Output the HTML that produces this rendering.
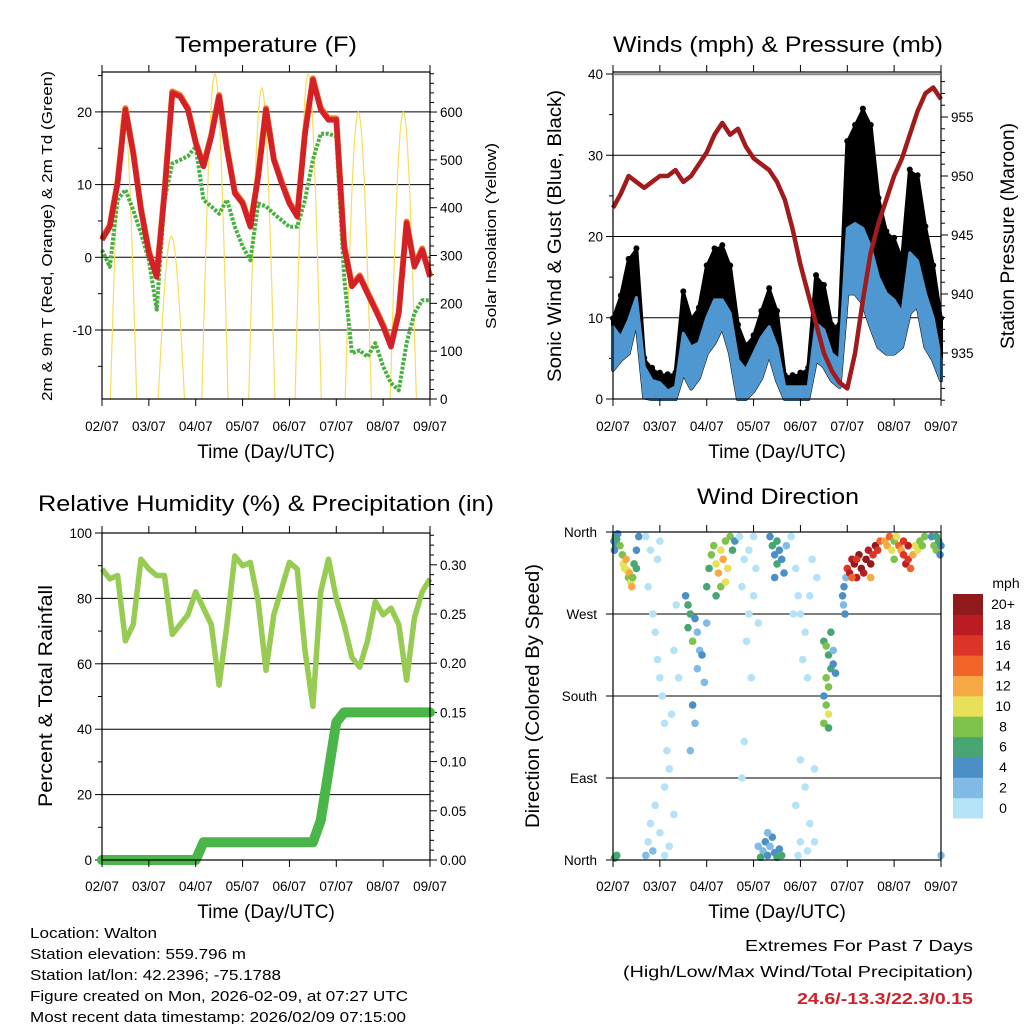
<!DOCTYPE html>
<html><head><meta charset="utf-8">
<style>
html,body{margin:0;padding:0;background:#fff;}
svg{display:block;font-family:"Liberation Sans",Arial,sans-serif;}
</style></head>
<body>
<svg id="chart" width="1024" height="1024" viewBox="0 0 1024 1024" xmlns="http://www.w3.org/2000/svg">
<rect x="0" y="0" width="1024" height="1024" fill="#fff"/>
</svg>
<script>
// ---------- DATA (4-hourly samples, day 0 = 02/07) ----------
const dayLabels = ["02/07","03/07","04/07","05/07","06/07","07/07","08/07","09/07"];
const tempTicks = [-10,0,10,20];
const solarTicks = [0,100,200,300,400,500,600];
const windTicks = [0,10,20,30,40];
const presTicks = [935,940,945,950,955];
const rhTicks = [0,20,40,60,80,100];
const precipTicks = ["0.00","0.05","0.10","0.15","0.20","0.25","0.30"];
const dirNames = ["North","East","South","West","North"];
const dirTickDeg = [0,90,180,270,360];
const speedLabels = ["0","2","4","6","8","10","12","14","16","18","20+"];
const speedColors = ["#b4e2f7","#7fbbe4","#4a8fc6","#48a672","#7cc24b","#e7e058","#f6a845","#f0642a","#dd3428","#bb1c24","#911a1c"];

const tempRed = [2.4,4.2,10.2,20.3,14.3,6.5,0.6,-2.7,8.8,22.6,22.1,20.3,15.7,12.5,16.6,22.1,14.8,8.8,7.4,4.2,11.1,20.3,13.4,10.2,7.4,5.6,17,24.4,20.3,18.9,18.9,1.5,-4,-2.7,-5,-7.2,-9.5,-12.3,-7.7,4.7,-1.3,1,-2.7];
const dewGreen = [1,-1.3,7.9,9.3,6.5,3.3,-0.4,-7.2,7.9,12.9,13.4,13.9,15.2,7.9,7,6,7.9,4.2,1.5,-0.4,7.4,7,6,5.1,4.2,4.2,7.9,13.4,17,17,16.6,-2.7,-13.2,-12.8,-13.7,-11.8,-15,-17.3,-18.3,-11.8,-7.7,-5.9,-5.9];
const solarPeakDay = [0.46,1.48,2.41,3.41,4.4,5.47,6.43];
const solarPeakVal = [610,340,680,650,680,600,600];

const windLo = [3.6,4.8,5.6,9.7,0.2,0,0,0,0,3.2,1.3,2.6,5.6,6.9,8.9,5.6,0,0,1,2.6,5.6,2.3,0,0,0,0,4.8,4,2.3,1.5,13,13,11.8,8.9,6.4,5.6,5.6,6.4,10.6,11.5,6.4,4.8,2.3];
const windHi = [8.9,7.6,9.7,12.5,4,2.3,2,1,1.5,8.1,6.4,6.9,10,12.2,12.2,10.6,4.8,3.6,5.6,7.6,8.9,6.4,1.5,1.5,1.5,1.5,9.3,8.5,5.6,4.8,21,21.6,21,18.7,15,13,12.2,10.6,18,17,13,10,4.8];
const gust = [9.7,12.5,17,18.3,4.8,3.6,3,2.8,3,13,9.7,11,16.2,18.3,18.7,16.2,8.9,6.4,7.6,10.6,13.4,10.6,2.7,2.7,3,3.6,15,13.8,8.9,8.9,31.5,33.5,35.5,33.5,24.5,20.4,19.6,17,28,27.3,21,16.2,9.7];
const pressure = [947.3,948.5,950,949.5,949,949.5,950,950,950.5,949.5,950,951,952,953.5,954.5,953.5,954,952.5,951.5,951,950.5,949.5,948,945.5,942.5,940,937.5,935,933.5,932.5,932,935,939.5,943.5,946,948,950,951.5,953.5,955.5,957,957.5,956.5];

const rh = [89,86,87,67,72,92,89,87,87,69,72,75,82,77,72,53.5,72,93,90,91,79,58,75,83,91,89,64,47,82,92,80,72,62,59,67,79,75,77,72,55,74,82,86];
const precip = [0,0,0,0,0,0,0,0,0,0,0,0,0,0.018,0.018,0.018,0.018,0.018,0.018,0.018,0.018,0.018,0.018,0.018,0.018,0.018,0.018,0.018,0.04,0.09,0.14,0.15,0.15,0.15,0.15,0.15,0.15,0.15,0.15,0.15,0.15,0.15,0.15];

const dirDay = [0.02,0.05,0.08,0.1,0.03,0.06,0.05,0.08,0.03,
0.15,0.2,0.22,0.25,0.28,0.3,0.33,0.35,0.38,0.4,0.42,0.45,0.5,0.55,0.5,
0.7,0.8,0.75,0.85,0.9,0.95,1.0,1.05,1.1,1.15,1.2,1.1,0.9,0.8,0.75,0.85,1.0,1.2,1.3,1.25,1.3,1.35,0.95,1.0,1.4,0.7,1.1,
1.55,1.6,1.65,1.6,1.7,1.75,1.8,1.85,1.9,1.8,1.95,1.7,1.75,1.65,2.0,
2.0,2.05,2.1,2.15,2.2,2.25,2.3,2.35,2.4,2.45,2.5,2.55,2.3,2.2,2.4,2.6,
2.7,2.8,2.75,2.9,2.85,2.95,2.8,2.75,2.9,3.0,3.05,3.1,3.0,
3.2,3.25,3.3,3.35,3.4,3.3,3.45,3.5,3.55,3.15,3.6,3.1,
3.35,3.4,3.45,3.5,3.55,3.6,3.65,3.5,3.7,3.45,
3.8,3.9,3.95,4.0,4.1,4.05,4.15,4.2,3.85,4.25,4.0,4.1,3.9,4.2,4.3,4.0,4.15,4.3,3.95,4.35,
4.5,4.55,4.6,4.65,4.55,4.6,4.5,4.55,4.6,4.5,4.6,4.65,4.7,4.75,4.7,
4.9,4.92,4.95,4.93,4.97,
5.0,5.05,5.1,5.15,5.2,5.25,5.3,5.35,5.4,5.45,5.5,5.55,5.6,5.65,5.7,5.2,5.1,5.5,
5.8,5.85,5.9,5.95,6.0,6.05,6.1,6.15,6.2,6.25,6.3,6.35,6.4,6.45,6.5,6.55,6.6,6.3,6.2,6.65,6.0,
6.8,6.85,6.9,6.95,7.0,6.98,6.9,7.0];
const dirDeg = [350,355,352,358,340,345,3,5,2,
345,335,325,320,330,318,310,315,305,300,310,325,340,355,320,
355,340,300,270,250,220,200,180,150,120,100,80,60,40,20,10,30,15,50,160,230,280,330,350,200,5,5,
290,280,270,255,240,265,250,230,225,210,195,170,150,120,260,
300,320,335,345,325,315,340,330,350,320,355,340,300,290,305,350,
355,330,300,270,240,200,130,90,340,290,320,260,355,
10,20,5,15,25,30,8,3,12,3,5,15,
355,345,335,325,340,330,315,350,345,310,
355,320,290,270,250,220,200,290,270,330,110,80,60,40,20,20,10,100,5,310,
240,235,225,210,200,190,180,170,160,150,145,250,215,205,230,
290,280,270,300,310,
320,315,330,325,310,335,320,315,330,340,325,335,345,340,350,330,310,310,
350,345,355,340,350,355,345,340,335,325,330,320,335,345,340,350,345,345,350,355,330,
355,345,340,350,345,335,355,5];
const dirSpeed = [4,6,6,5,4,5,7,6,6,
8,9,10,11,12,10,9,12,10,13,8,7,4,5,6,
0,1,0,0,1,0,0,1,0,0,1,0,0,1,0,2,0,1,0,0,1,0,1,0,0,2,0,
5,6,7,6,8,4,3,3,4,3,2,4,3,3,3,
6,7,9,8,10,12,11,13,9,10,8,7,8,6,10,5,
0,1,0,1,0,0,1,0,0,1,0,0,1,
3,4,4,3,5,3,4,6,5,7,6,2,
5,6,5,6,4,4,4,6,2,4,
1,0,0,1,0,0,0,0,1,0,0,1,0,1,0,0,1,0,0,1,
7,8,6,7,9,8,4,9,10,8,7,6,4,4,3,
4,3,4,4,3,
17,18,19,20,18,21,22,19,20,18,21,17,22,16,14,16,15,13,
13,12,14,10,9,11,14,13,16,18,17,14,12,10,11,9,8,18,16,9,8,
5,8,9,7,4,4,7,3];

// ---------- HELPERS ----------
const NS = "http://www.w3.org/2000/svg";
const svg = document.getElementById("chart");
function mk(tag, attrs, parent) {
  const e = document.createElementNS(NS, tag);
  for (const k in attrs) e.setAttribute(k, attrs[k]);
  (parent || svg).appendChild(e);
  return e;
}
function txt(str, x, y, size, anchor, parent, extra) {
  const a = {x: x, y: y, "font-size": size, "text-anchor": anchor || "middle", fill: "#000"};
  if (extra) for (const k in extra) a[k] = extra[k];
  const e = mk("text", a, parent);
  e.textContent = str;
  return e;
}
const tDays = tempRed.map((_, k) => k / 6);

function panel(name, x0, x1, y0, y1) {
  const g = mk("g", {});
  
  
  return {g, x0, x1, y0, y1, X: d => x0 + d / 7 * (x1 - x0)};
}
function xAxis(P, labelY) {
  const ax = mk("g", {}, P.g);
  
  
  for (let i = 0; i < dayLabels.length; i++) {
    const x = P.X(i);
    mk("line", {x1: x, x2: x, y1: P.y1, y2: P.y1 + 7, stroke: "#000", "stroke-width": 1}, ax);
    mk("line", {x1: x, x2: x, y1: P.y0, y2: P.y0 - 7, stroke: "#000", "stroke-width": 1}, ax);
    const t = txt(dayLabels[i], x, labelY, 13.5, "middle", ax);
    
    
  }
  const t = txt("Time (Day/UTC)", (P.x0 + P.x1) / 2, labelY + 27, 19, "middle", ax);
  
  
}
function hGrid(P, y) {
  const l = mk("line", {x1: P.x0, x2: P.x1, y1: y, y2: y, stroke: "#000", "stroke-width": 1}, P.g);
  
  
}
function frame(P) {
  const r = mk("rect", {x: P.x0, y: P.y0, width: P.x1 - P.x0, height: P.y1 - P.y0, fill: "none", stroke: "#000", "stroke-width": 1.2}, P.g);
  
  
}
function tick(P, side, y, len) {
  const x = side === "L" ? P.x0 : P.x1;
  const dx = side === "L" ? -len : len;
  mk("line", {x1: x, x2: x + dx, y1: y, y2: y, stroke: "#000", "stroke-width": 1}, P.g);
}
function poly(P, xs, ys, attrs, name) {
  const pts = xs.map((x, i) => x.toFixed(1) + "," + ys[i].toFixed(1)).join(" ");
  const a = Object.assign({points: pts, fill: "none"}, attrs);
  const e = mk("polyline", a, P.g);
  
  
  return e;
}
function vtitle(str, x, y, size, parent, len, name) {
  const t = txt(str, 0, 0, size, "middle", parent, {transform: "translate(" + x + "," + y + ") rotate(-90)"});
  if (len) { t.setAttribute("textLength", len); t.setAttribute("lengthAdjust", "spacingAndGlyphs"); }
  
  
}
function title(str, x, y, len, name) {
  const t = txt(str, x, y, 22, "middle");
  t.setAttribute("textLength", len);
  t.setAttribute("lengthAdjust", "spacingAndGlyphs");
  
  
}

// ---------- PANEL 1: TEMPERATURE ----------
(function () {
  const P = panel("temperature-panel", 102, 430, 72, 399);
  const yT = v => 257.3 - v * 7.27;
  const yS = v => 399 - v * 0.4783;
  title("Temperature (F)", 266, 52, 182, "temperature-title");
  tempTicks.forEach(v => hGrid(P, yT(v)));
  for (let v = -15; v <= 25; v += 5) tick(P, "L", yT(v), v % 10 === 0 ? 7 : 4);
  tempTicks.forEach(v => {
    const t = txt(String(v), 92, yT(v) + 5, 13.5, "end", P.g);
    
    
  });
  for (let v = 0; v <= 680; v += 20) tick(P, "R", yS(v), v % 100 === 0 ? 7 : 4);
  solarTicks.forEach(v => {
    const t = txt(String(v), 440, yS(v) + 5, 13.5, "start", P.g);
    
    
  });
  solarPeakDay.forEach((d0, i) => {
    const xs = [], ys = [];
    const w = 0.28;
    for (let j = 0; j <= 24; j++) {
      const d = d0 - w + 2 * w * j / 24;
      xs.push(P.X(d)); ys.push(yS(solarPeakVal[i] * Math.sin(Math.PI * j / 24)));
    }
    poly(P, xs, ys, {stroke: "#f8dc5a", "stroke-width": 1.2}, "solar-insolation-line");
  });
  const xs = tDays.map(P.X);
  poly(P, xs, dewGreen.map(yT), {stroke: "#48b040", "stroke-width": 4, "stroke-dasharray": "3 1.5", "stroke-linejoin": "round"}, "dewpoint-2m-line");
  poly(P, xs, tempRed.map(v => yT(v) - 1.5), {stroke: "#f07828", "stroke-width": 6, "stroke-linejoin": "round"}, "temp-9m-line");
  poly(P, xs, tempRed.map(yT), {stroke: "#d42027", "stroke-width": 5.5, "stroke-linejoin": "round"}, "temp-2m-line");
  frame(P);
  xAxis(P, 431);
  vtitle("2m & 9m T (Red, Orange) & 2m Td (Green)", 52, 236, 15, P.g, 330, "y-axis-title");
  vtitle("Solar Insolation (Yellow)", 496, 236, 15, P.g, 186, "y2-axis-title");
})();

// ---------- PANEL 2: WINDS & PRESSURE ----------
(function () {
  const P = panel("winds-panel", 613, 941, 72, 399);
  const yW = v => 399 - v * 8.125;
  const yP = p => 117 + (955 - p) * 11.8;
  title("Winds (mph) & Pressure (mb)", 778, 52, 330, "winds-title");
  windTicks.forEach(v => hGrid(P, yW(v)));
  for (let v = 0; v <= 40; v += 5) tick(P, "L", yW(v), v % 10 === 0 ? 7 : 4);
  windTicks.forEach(v => {
    const t = txt(String(v), 603, yW(v) + 5, 13.5, "end", P.g);
    
    
  });
  for (let p = 931; p <= 958; p += 1) tick(P, "R", yP(p), p % 5 === 0 ? 7 : 4);
  presTicks.forEach(p => {
    const t = txt(String(p), 951, yP(p) + 5, 13.5, "start", P.g);
    
    
  });
  const xs = tDays.map(P.X);
  const gpts = xs.map((x, i) => x.toFixed(1) + "," + yW(gust[i]).toFixed(1)).concat(
    xs.slice().reverse().map((x, j) => { const i = xs.length - 1 - j; return x.toFixed(1) + "," + yW(windLo[i]).toFixed(1); })).join(" ");
  const gb = mk("polygon", {points: gpts, fill: "#000", stroke: "#000", "stroke-width": 4, "stroke-linejoin": "round"}, P.g);
  
  
  gust.forEach((v, i) => {
    const c = mk("circle", {cx: xs[i], cy: yW(v) - 2, r: 3, fill: "#000"}, P.g);
    
    
  });
  const bpts = xs.map((x, i) => x.toFixed(1) + "," + yW(windHi[i]).toFixed(1)).concat(
    xs.slice().reverse().map((x, j) => { const i = xs.length - 1 - j; return x.toFixed(1) + "," + yW(windLo[i]).toFixed(1); })).join(" ");
  const bb = mk("polygon", {points: bpts, fill: "#4e97d1", stroke: "#4e97d1", "stroke-width": 3, "stroke-linejoin": "round"}, P.g);
  
  
  poly(P, xs, pressure.map(yP), {stroke: "#a11b1d", "stroke-width": 4.5, "stroke-linejoin": "round"}, "pressure-line");
  frame(P);
  mk("line", {x1: P.x0, x2: P.x1, y1: 74.5, y2: 74.5, stroke: "#888", "stroke-width": 1.5}, P.g);
  xAxis(P, 431);
  vtitle("Sonic Wind & Gust (Blue, Black)", 561, 236, 19, P.g, 292, "y-axis-title");
  vtitle("Station Pressure (Maroon)", 1014, 236, 19, P.g, 226, "y2-axis-title");
})();

// ---------- PANEL 3: RH & PRECIP ----------
(function () {
  const P = panel("humidity-panel", 102, 430, 533, 860);
  const yR = v => 860 - v * 3.27;
  const yPr = v => 860 - v * 984;
  title("Relative Humidity (%) & Precipitation (in)", 266, 511, 456, "humidity-title");
  [20, 40, 60, 80].forEach(v => hGrid(P, yR(v)));
  for (let v = 0; v <= 100; v += 10) tick(P, "L", yR(v), v % 20 === 0 ? 7 : 4);
  rhTicks.forEach(v => {
    const t = txt(String(v), 92, yR(v) + 5, 13.5, "end", P.g);
    
    
  });
  for (let v = 0; v <= 33; v += 1) tick(P, "R", yPr(v / 100), v % 5 === 0 ? 7 : 4);
  precipTicks.forEach(s => {
    const t = txt(s, 440, yPr(parseFloat(s)) + 5, 13.5, "start", P.g);
    
    
  });
  const xs = tDays.map(P.X);
  poly(P, xs, rh.map(yR), {stroke: "#97cb52", "stroke-width": 5.5, "stroke-linejoin": "round"}, "relative-humidity-line");
  poly(P, xs, precip.map(yPr), {stroke: "#4ab548", "stroke-width": 10, "stroke-linejoin": "round", "stroke-linecap": "round"}, "precipitation-line");
  frame(P);
  xAxis(P, 891);
  vtitle("Percent & Total Rainfall", 52, 696, 19, P.g, 222, "y-axis-title");
})();

// ---------- PANEL 4: WIND DIRECTION ----------
(function () {
  const P = panel("wind-direction-panel", 613, 941, 532, 860);
  const yD = d => 860 - d * 328 / 360;
  title("Wind Direction", 778, 504, 162, "wind-direction-title");
  dirTickDeg.forEach(d => hGrid(P, yD(d)));
  dirTickDeg.forEach((d, i) => {
    tick(P, "L", yD(d), 7);
    const t = txt(dirNames[i], 597, yD(d) + 5, 13.5, "end", P.g);
    
    
  });
  dirDay.forEach((d, i) => {
    const idx = Math.min(10, Math.floor(dirSpeed[i] / 2));
    const c = mk("circle", {cx: P.X(d), cy: yD(dirDeg[i]), r: 3.8, fill: speedColors[idx]}, P.g);
    
    
  });
  frame(P);
  xAxis(P, 891);
  vtitle("Direction (Colored By Speed)", 539, 696, 19, P.g, 264, "y-axis-title");
  const cb = mk("g", {});
  
  
  const segH = (818 - 594) / speedColors.length;
  speedColors.forEach((c, i) => {
    const y = 818 - (i + 1) * segH;
    const r = mk("rect", {x: 953, y: y, width: 30, height: segH + 0.5, fill: c}, cb);
    
    
    const t = txt(speedLabels[i], 1003, y + segH / 2 + 5, 14, "middle", cb);
    
    
  });
  const mt = txt("mph", 1006, 588, 14, "middle", cb);
  
  
})();

// ---------- FOOTER ----------
const footLines = ["Location: Walton","Station elevation: 559.796 m","Station lat/lon: 42.2396; -75.1788","Figure created on Mon, 2026-02-09, at 07:27 UTC","Most recent data timestamp: 2026/02/09 07:15:00"];
const footLens = [127, 216, 251, 378, 376];
const foot = mk("g", {});


footLines.forEach((s, i) => {
  const t = txt(s, 30, 938 + i * 21, 15, "start", foot, {textLength: footLens[i], lengthAdjust: "spacingAndGlyphs"});
  
  
});
const ex = mk("g", {});


const e1 = txt("Extremes For Past 7 Days", 973, 951, 16, "end", ex, {textLength: 228, lengthAdjust: "spacingAndGlyphs"});


const e2 = txt("(High/Low/Max Wind/Total Precipitation)", 973, 977, 16, "end", ex, {textLength: 350, lengthAdjust: "spacingAndGlyphs"});


const e3 = txt("24.6/-13.3/22.3/0.15", 973, 1004, 16, "end", ex, {fill: "#d02028", "font-weight": "bold", textLength: 176, lengthAdjust: "spacingAndGlyphs"});


</script>
</body></html>
